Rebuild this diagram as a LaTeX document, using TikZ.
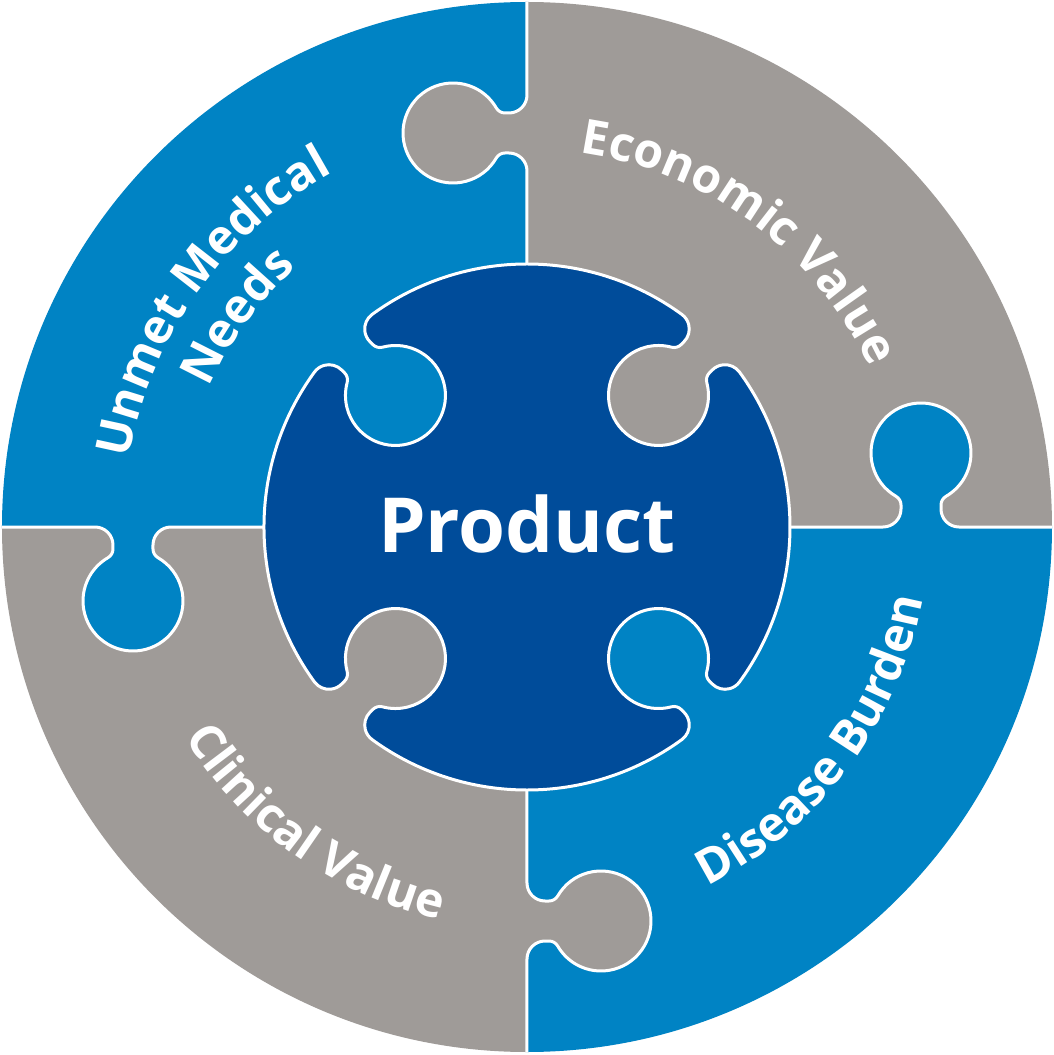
\documentclass[tikz,border=0pt]{standalone}
\usepackage{fontspec}
\setmainfont{Open Sans}
\usetikzlibrary{decorations.text}

\definecolor{blueq}{RGB}{0,131,196}
\definecolor{grayq}{RGB}{159,155,152}
\definecolor{bluecore}{RGB}{0,76,154}

\tikzset{
  seam/.style={draw=white,line width=3pt},
  arclabel/.style={decorate,decoration={text along path,text align=center,
    text color=white,text={|\fontsize{48pt}{58pt}\selectfont\bfseries|#1}}}
}

% knob on a seam: base (356,0)--(432,0), head centred at (394,74)
\newcommand{\knobpath}{arc[start angle=-90,end angle=0,radius=18] -- (374,22.04)
  arc[start angle=0,end angle=60,radius=10]
  arc[start angle=240,end angle=-60,radius=50]
  arc[start angle=120,end angle=180,radius=10] -- (414,18)
  arc[start angle=180,end angle=270,radius=18]}

\begin{document}
\begin{tikzpicture}[x=1pt,y=1pt]
\fill[white] (-527,-528) rectangle (527,527);
\useasboundingbox (-527,-528) rectangle (527,527);

% quadrants
\foreach \a/\c in {0/grayq,90/blueq,180/grayq,270/blueq}
  \fill[\c] (0,0) -- (\a:525) arc[start angle=\a,end angle=\a+90,radius=525] -- cycle;

% outer knobs
\foreach \a/\c in {0/blueq,90/grayq,180/blueq,270/grayq}{
  \begin{scope}[rotate=\a]
    \fill[\c] (356,0) \knobpath -- (432,-1) -- (356,-1) -- cycle;
    \draw[seam] (263,0) -- (356,0) \knobpath -- (525,0);
  \end{scope}
}

% centre piece with four holes
\filldraw[fill=bluecore,seam] (-36.08:263)
  \foreach \r in {-45,45,135,225}{
    arc[start angle=\r+8.92,end angle=\r+81.08,radius=263]
    arc[start angle=\r+81.08,end angle=\r+180,radius=18]
    -- ++(\r-90:4.08)
    arc[start angle=\r+180,end angle=\r+240,radius=10]
    arc[start angle=\r+60,end angle=\r-240,radius=50]
    arc[start angle=\r-60,end angle=\r,radius=10]
    -- ++(\r+90:4.08)
    arc[start angle=\r,end angle=\r+98.92,radius=18]
  } -- cycle;

\node[anchor=base,text=white,font=\fontsize{76pt}{90pt}\selectfont\bfseries] (product) at (0,-25) {Product};

% labels on arcs
\path[arclabel={Unmet Medical}] (184.5:404) arc[start angle=184.5,end angle=104.5,radius=404];
\path[arclabel={Needs}] (184:347) arc[start angle=184,end angle=104,radius=347];
\path[arclabel={Economic Value}] (93.5:378) arc[start angle=93.5,end angle=13.5,radius=378];
\path[arclabel={Disease Burden}] (-76.8:402) arc[start angle=-76.8,end angle=3.2,radius=402];
\path[arclabel={Clinical Value}] (194.5:402) arc[start angle=194.5,end angle=274.5,radius=402];
\end{tikzpicture}
\end{document}
